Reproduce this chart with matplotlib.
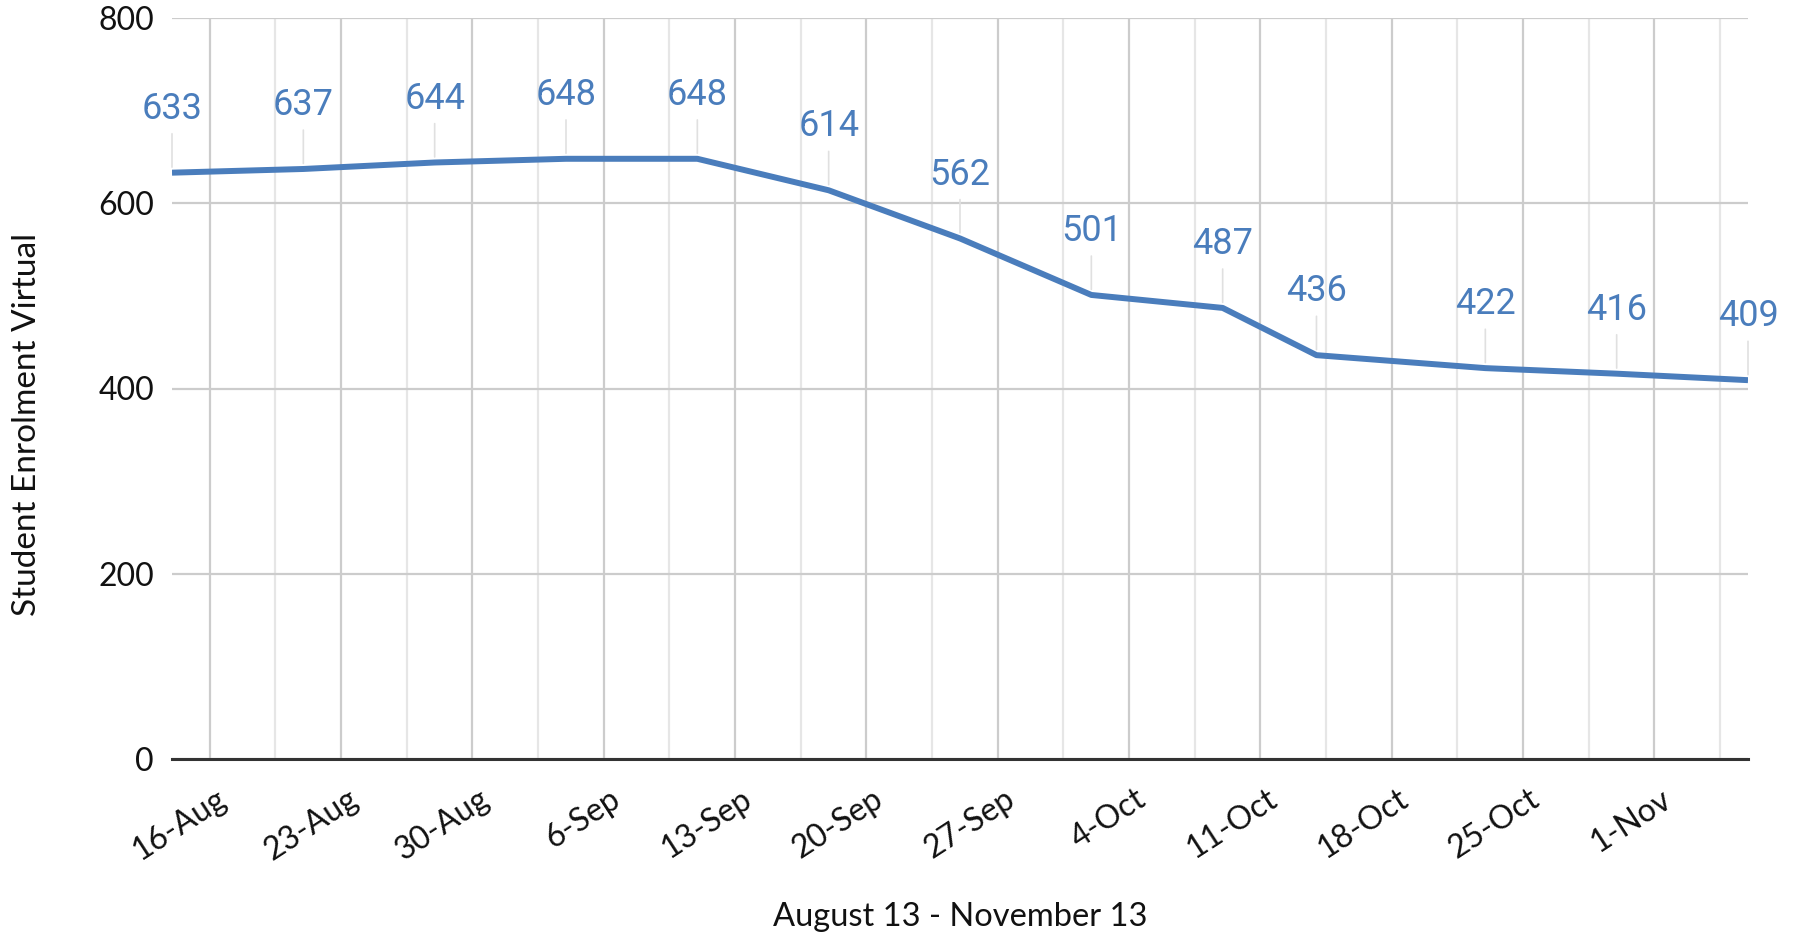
import matplotlib
matplotlib.use("Agg")
import matplotlib.pyplot as plt
import matplotlib.transforms as mtransforms
import pandas as pd

# ---- data ----
dates = ["2020-08-14", "2020-08-21", "2020-08-28", "2020-09-04", "2020-09-11",
         "2020-09-18", "2020-09-25", "2020-10-02", "2020-10-09", "2020-10-14",
         "2020-10-23", "2020-10-30", "2020-11-06"]
enrolment = [633, 637, 644, 648, 648, 614, 562, 501, 487, 436, 422, 416, 409]
y_ticks = [0, 200, 400, 600, 800]
x_title = "August 13 - November 13"
y_title = "Student Enrolment Virtual"

x = pd.to_datetime(dates)

LINE = "#4a7dbc"
fig = plt.figure(figsize=(17.98, 9.34), dpi=100)
ax = fig.add_axes([172/1798, 1-759/934, (1748-172)/1798, (759-18)/934])

ax.plot(x, enrolment, color=LINE, lw=4.3, solid_joinstyle="round",
        solid_capstyle="butt", zorder=3)

for xi, yi in zip(x, enrolment):
    ax.annotate(str(yi), xy=(xi, yi), xytext=(0, 33), textcoords="offset points",
                ha="center", va="bottom", fontsize=26, color=LINE, family="Roboto",
                arrowprops=dict(arrowstyle="-", color="#e0e0e0", lw=1.2,
                                shrinkA=3, shrinkB=4),
                annotation_clip=False, zorder=4)

ax.set_xlim(x[0], x[-1])
ax.set_ylim(0, 800)
ax.set_yticks(y_ticks)

major = pd.date_range("2020-08-16", "2020-11-01", freq="7D")
minor = pd.date_range("2020-08-19 12:00", "2020-11-05", freq="7D")
ax.set_xticks(major)
ax.set_xticks(minor, minor=True)
ax.set_xticklabels([f"{d.day}-{d.strftime('%b')}" for d in major])

for s in ["top", "right", "left"]:
    ax.spines[s].set_visible(False)
ax.spines["bottom"].set_color("#333333")
ax.spines["bottom"].set_linewidth(2.2)
ax.spines["bottom"].set_zorder(5)

ax.grid(True, which="major", axis="both", color="#cccccc", lw=1.6)
ax.grid(True, which="minor", axis="x", color="#e6e6e6", lw=1.6)
ax.set_axisbelow(True)
ax.tick_params(axis="both", which="both", length=0)
ax.tick_params(axis="y", pad=13, labelsize=23, labelcolor="#111111")
ax.tick_params(axis="x", pad=18, labelsize=23, labelcolor="#111111")
for lab in ax.get_yticklabels():
    lab.set_family("Lato")
offset = mtransforms.ScaledTranslation(6/100, 0, fig.dpi_scale_trans)
for lab in ax.get_xticklabels():
    lab.set_family("Lato")
    lab.set_rotation(33)
    lab.set_ha("right")
    lab.set_va("top")
    lab.set_rotation_mode("anchor")
    lab.set_transform(lab.get_transform() + offset)

fig.text((172+1748)/2/1798, 1-917/934, x_title, ha="center", va="center",
         fontsize=23.5, family="Lato", color="#111111")
fig.text(27/1798, 1-424/934, y_title, ha="center", va="center", rotation=90,
         fontsize=24, family="Lato", color="#111111")

fig.savefig("out.png", dpi=100, facecolor="white")
